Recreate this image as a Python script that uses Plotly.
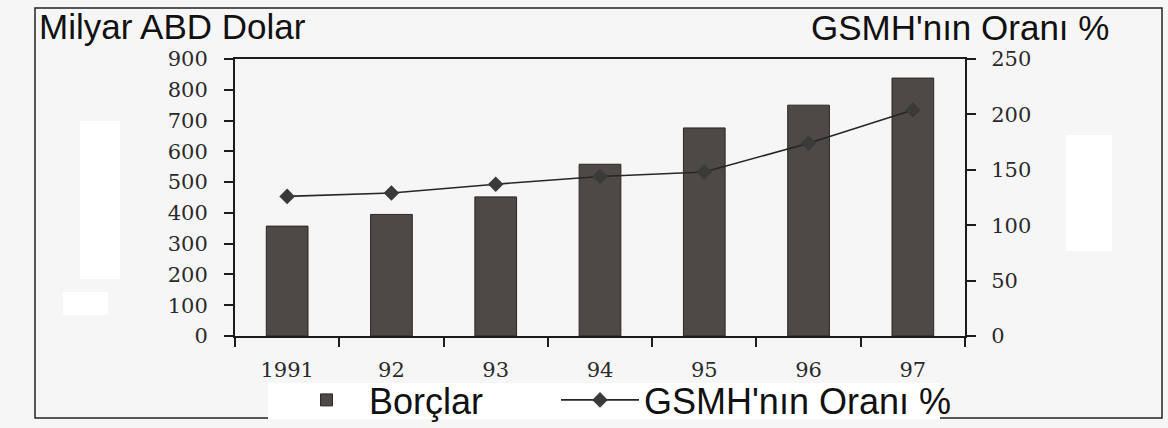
import plotly.graph_objects as go

# Data
years = ["1991", "92", "93", "94", "95", "96", "97"]
debt = [357, 395, 452, 558, 676, 750, 838]          # Borçlar, milyar ABD doları
gnp_ratio = [126, 129, 137, 144, 148, 174, 204]     # GSMH'nın oranı, %
left_ticks = [0, 100, 200, 300, 400, 500, 600, 700, 800, 900]
right_ticks = [0, 50, 100, 150, 200, 250]

W, H = 1168, 428
L, R, T, B = 235, 203, 59, 92
PW, PH = W - L - R, H - T - B


def px_x(x):
    return (x - L) / PW


def px_y(y):
    return (H - B - y) / PH


INK = "#1c1c1c"
SERIF = dict(family="DejaVu Serif", size=21, color="#2a2a2a")
SANS = "Liberation Sans"
PAGE = "#f6f6f6"
LEGEND_FONT = dict(family=SANS, size=36, color="#111111")

fig = go.Figure()

fig.add_trace(go.Bar(
    x=years, y=debt, name="Borçlar", legend="legend",
    width=0.4,
    marker=dict(color="#4e4946", line=dict(color="#2b2724", width=1)),
))

fig.add_trace(go.Scatter(
    x=years, y=gnp_ratio, name="GSMH'nın Oranı %", yaxis="y2", legend="legend2",
    mode="lines+markers",
    line=dict(color="#262626", width=1.6),
    marker=dict(symbol="diamond", size=12, color="#3a3a3a"),
))

axis_common = dict(showgrid=False, zeroline=False, tickcolor=INK, tickwidth=2, ticklen=9)

fig.update_layout(
    width=W, height=H,
    margin=dict(l=L, r=R, t=T, b=B, autoexpand=False),
    paper_bgcolor=PAGE,
    plot_bgcolor="rgba(0,0,0,0)",
    showlegend=True,
    xaxis=dict(
        type="category", range=[-0.5, 6.5],
        showline=True, linecolor=INK, linewidth=2, mirror=True,
        ticks="outside", tickson="boundaries",
        tickfont=SERIF, ticklabelstandoff=14,
        **axis_common,
    ),
    xaxis2=dict(
        overlaying="x", anchor="y", side="bottom", range=[-0.5, 6.5],
        tickvals=[0.5, 1.5, 2.5, 3.5, 4.5, 5.5], ticks="inside",
        showticklabels=False, showline=False,
        **axis_common,
    ),
    yaxis=dict(
        range=[0, 900], tickvals=left_ticks, ticks="outside",
        showline=True, linecolor=INK, linewidth=2,
        tickfont=SERIF, ticklabelstandoff=12,
        **axis_common,
    ),
    yaxis3=dict(
        overlaying="y", anchor="x", side="left", range=[0, 900],
        tickvals=left_ticks, ticks="inside", showticklabels=False, showline=False,
        **axis_common,
    ),
    yaxis2=dict(
        overlaying="y", anchor="x", side="right", range=[0, 250],
        tickvals=right_ticks, ticks="outside",
        showline=True, linecolor=INK, linewidth=2,
        tickfont=SERIF, ticklabelstandoff=11,
        **axis_common,
    ),
    yaxis4=dict(
        overlaying="y", anchor="x", side="right", range=[0, 250],
        tickvals=right_ticks, ticks="inside", showticklabels=False, showline=False,
        **axis_common,
    ),
    legend=dict(
        orientation="h", x=px_x(284), xanchor="left", y=px_y(400), yanchor="middle",
        bgcolor="rgba(0,0,0,0)", font=LEGEND_FONT, itemwidth=75,
    ),
    legend2=dict(
        orientation="h", x=px_x(556), xanchor="left", y=px_y(400), yanchor="middle",
        bgcolor="rgba(0,0,0,0)", font=LEGEND_FONT, itemwidth=78,
    ),
)

# Axis titles at the top corners
fig.add_annotation(
    text="Milyar ABD Dolar", xref="paper", yref="paper",
    x=px_x(37), y=px_y(27), xanchor="left", yanchor="middle", showarrow=False,
    font=dict(family=SANS, size=35, color="#111111"),
)
fig.add_annotation(
    text="GSMH'nın Oranı %", xref="paper", yref="paper",
    x=px_x(1111), y=px_y(28), xanchor="right", yanchor="middle", showarrow=False,
    font=dict(family=SANS, size=35, color="#111111"),
)

# Outer frame around the figure
fig.add_shape(
    type="rect", xref="paper", yref="paper",
    x0=px_x(35), x1=px_x(1162), y0=px_y(418), y1=px_y(8),
    line=dict(color="#222222", width=1.5), fillcolor="rgba(0,0,0,0)", layer="below",
)

# White patches on the page (legend backing and corrections)
for x0, y0, x1, y1 in [(268, 383, 940, 419), (80, 121, 120, 279),
                       (63, 292, 108, 315), (1066, 135, 1112, 251)]:
    fig.add_shape(
        type="rect", xref="paper", yref="paper",
        x0=px_x(x0), x1=px_x(x1), y0=px_y(y1), y1=px_y(y0),
        line=dict(width=0), fillcolor="#ffffff", layer="below",
    )

fig.write_html("out.html")
